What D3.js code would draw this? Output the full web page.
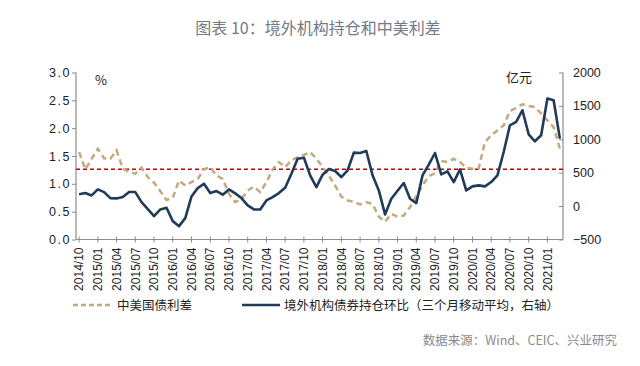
<!DOCTYPE html>
<html><head><meta charset="utf-8">
<script src="https://cdn.jsdelivr.net/npm/d3@7"></script>
<style>
html,body{margin:0;padding:0;background:#fff;}
svg{display:block;}
</style></head>
<body><svg id="c" width="640" height="366"></svg>
<script>
const months = ["2014/10","2014/11","2014/12",
"2015/01","2015/02","2015/03","2015/04","2015/05","2015/06","2015/07","2015/08","2015/09","2015/10","2015/11","2015/12",
"2016/01","2016/02","2016/03","2016/04","2016/05","2016/06","2016/07","2016/08","2016/09","2016/10","2016/11","2016/12",
"2017/01","2017/02","2017/03","2017/04","2017/05","2017/06","2017/07","2017/08","2017/09","2017/10","2017/11","2017/12",
"2018/01","2018/02","2018/03","2018/04","2018/05","2018/06","2018/07","2018/08","2018/09","2018/10","2018/11","2018/12",
"2019/01","2019/02","2019/03","2019/04","2019/05","2019/06","2019/07","2019/08","2019/09","2019/10","2019/11","2019/12",
"2020/01","2020/02","2020/03","2020/04","2020/05","2020/06","2020/07","2020/08","2020/09","2020/10","2020/11","2020/12",
"2021/01","2021/02","2021/03"];

const tickLabels = ["2014/10","2015/01","2015/04","2015/07","2015/10","2016/01","2016/04","2016/07","2016/10",
"2017/01","2017/04","2017/07","2017/10","2018/01","2018/04","2018/07","2018/10","2019/01","2019/04","2019/07",
"2019/10","2020/01","2020/04","2020/07","2020/10","2021/01"];

// 中美国债利差 (%), left axis
const spread = [1.57,1.26,1.45,
1.63,1.46,1.45,1.60,1.27,1.22,1.18,1.29,1.12,1.02,0.87,0.71,
0.75,1.06,0.97,1.03,1.09,1.26,1.30,1.15,1.09,0.82,0.67,0.73,
0.88,0.95,0.85,1.03,1.26,1.39,1.30,1.42,1.48,1.52,1.57,1.45,
1.30,1.15,0.97,0.77,0.70,0.68,0.63,0.67,0.64,0.41,0.32,0.46,
0.41,0.43,0.58,0.78,0.97,1.14,1.19,1.41,1.39,1.45,1.39,1.29,
1.27,1.28,1.75,1.87,1.96,2.05,2.31,2.36,2.43,2.40,2.38,2.26,
2.14,2.02,1.63];

// 境外机构债券持仓环比（三个月移动平均）(亿元), right axis
const holdings = [176,195,160,
250,210,120,115,135,210,210,60,-45,-150,-50,-25,
-225,-300,-180,145,270,335,195,225,170,250,190,120,
10,-50,-50,85,135,195,275,485,710,725,460,285,
470,555,525,435,535,800,795,825,460,235,-125,110,
230,345,110,45,460,620,795,475,520,360,550,235,
295,310,295,360,460,810,1210,1260,1435,1075,970,1060,
1610,1585,1010];

const spreadMean = [1.26];

const leftTicks = [0,0.5,1.0,1.5,2.0,2.5,3.0];
const rightTicks = [-500,0,500,1000,1500,2000];

const title = "图表 10：境外机构持仓和中美利差";
const legendNames = ["中美国债利差","境外机构债券持仓环比（三个月移动平均，右轴）"];
const source = "数据来源：Wind、CEIC、兴业研究";

const svg = d3.select("#c");
const L = 76, R = 563, T = 72.5, B = 239.5;

const x = d3.scaleBand().domain(months).range([L, R]).paddingInner(0).paddingOuter(0);
const xc = d => x(d) + x.bandwidth()/2;
const yL = d3.scaleLinear().domain([0,3]).range([B,T]);
const yR = d3.scaleLinear().domain([-500,2000]).range([B,T]);

const cjk = "'Noto Sans CJK SC', 'Noto Sans', sans-serif";
const num = "'Liberation Sans', Arial, sans-serif";

// title
svg.append("text").attr("x", 318).attr("y", 34).attr("text-anchor","middle")
  .attr("font-family", cjk).attr("font-size", 16).attr("fill","#737a85").text(title);

// axes
const axisColor = "#8c8c8c";
const gl = svg.append("g").attr("transform",`translate(${L},0)`)
  .call(d3.axisLeft(yL).tickValues(leftTicks).tickSize(4).tickFormat(d3.format(".1f")));
const gr = svg.append("g").attr("transform",`translate(${R},0)`)
  .call(d3.axisRight(yR).tickValues(rightTicks).tickSize(0).tickPadding(10).tickFormat(d => d < 0 ? "−" + Math.abs(d) : d));
const gb = svg.append("g").attr("transform",`translate(0,${B})`)
  .call(d3.axisBottom(x).tickValues(tickLabels).tickSize(4).tickPadding(4));
// right axis inward ticks
gr.selectAll(".tick").append("line").attr("x1",-4).attr("x2",0).attr("stroke",axisColor);

[gl,gr,gb].forEach(g=>{
  g.select(".domain").attr("stroke",axisColor).attr("stroke-width",1.2);
  g.selectAll(".tick line").attr("stroke",axisColor);
  g.selectAll("text").attr("font-family",num).attr("font-size",12.5).attr("fill","#222");
});
gl.selectAll("text").attr("letter-spacing","1.5px").attr("dx","2");
gb.selectAll(".tick line").attr("y1",-3).attr("y2",3);
gb.selectAll("text").attr("font-size",12).attr("transform","rotate(-90)")
  .attr("text-anchor","end").attr("x",-8).attr("y",0).attr("dy","0.35em");
gb.select(".domain").attr("d",`M${L},0H${R}`);
gl.select(".domain").attr("d",`M0,${T}V${B}`);
gr.select(".domain").attr("d",`M0,${T}V${B}`);

// unit labels
svg.append("text").attr("x",101).attr("y",85).attr("text-anchor","middle")
  .attr("font-family",cjk).attr("font-size",13).attr("fill","#222").text("%");
svg.append("text").attr("x",519).attr("y",82).attr("text-anchor","middle")
  .attr("font-family",cjk).attr("font-size",13).attr("fill","#222").text("亿元");

// mean line
svg.append("line").attr("x1",L).attr("x2",R)
  .attr("y1",yL(spreadMean[0])).attr("y2",yL(spreadMean[0]))
  .attr("stroke","#c00000").attr("stroke-width",1.5).attr("stroke-dasharray","4,3");

// spread line
const tan = "#c2aa7e", navy = "#1f3b57";
svg.append("path").datum(spread)
  .attr("fill","none").attr("stroke",tan).attr("stroke-width",2.5).attr("stroke-dasharray","6,4")
  .attr("d", d3.line().x((d,i)=>xc(months[i])).y(d=>yL(d)));

// holdings line
svg.append("path").datum(holdings)
  .attr("fill","none").attr("stroke",navy).attr("stroke-width",2.6).attr("stroke-linejoin","round")
  .attr("d", d3.line().x((d,i)=>xc(months[i])).y(d=>yR(d)));

// legend
const ly = 305;
svg.append("line").attr("x1",73).attr("x2",113).attr("y1",ly).attr("y2",ly)
  .attr("stroke",tan).attr("stroke-width",2.5).attr("stroke-dasharray","5,3");
svg.append("text").attr("x",117).attr("y",ly).attr("dy","0.36em")
  .attr("font-family",cjk).attr("font-size",12.5).attr("fill","#222").text(legendNames[0]);
svg.append("line").attr("x1",242).attr("x2",280).attr("y1",ly).attr("y2",ly)
  .attr("stroke",navy).attr("stroke-width",2.6);
svg.append("text").attr("x",284).attr("y",ly).attr("dy","0.36em")
  .attr("font-family",cjk).attr("font-size",12.5).attr("fill","#222").text(legendNames[1]);

// source
svg.append("text").attr("x",617).attr("y",340).attr("dy","0.36em").attr("text-anchor","end")
  .attr("font-family",cjk).attr("font-size",12.5).attr("fill","#8a8a8a").text(source);
</script>
</body></html>
